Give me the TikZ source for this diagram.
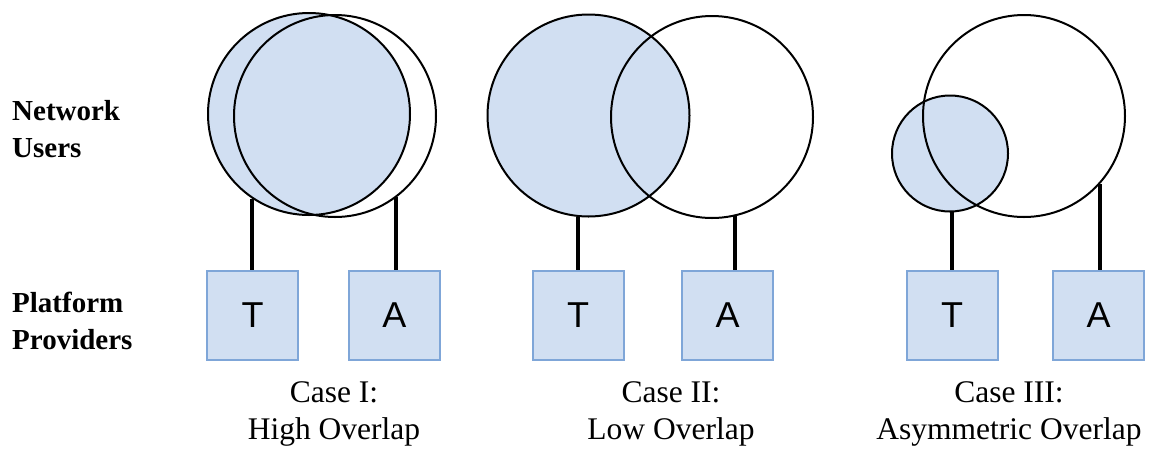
\documentclass[tikz,border=0pt]{standalone}
\usepackage{fontspec}
\setmainfont{Liberation Serif}
\newfontfamily\arialfont{Liberation Sans}
\definecolor{fillblue}{HTML}{D1DFF2}
\definecolor{edgeblue}{HTML}{7FA6D8}

\begin{document}
\begin{tikzpicture}[
    x=1pt, y=-1pt,
    users/.style={
      circle, draw=black, line width=2pt, inner sep=0pt,
      minimum size=#1
    },
    users/.default=202pt,
    prov/.style={
      rectangle, draw=edgeblue, fill=fillblue, line width=2pt,
      minimum width=91pt, minimum height=89pt,
      font=\arialfont\fontsize{36}{40}\selectfont
    },
    link/.style={line width=4pt},
    side/.style={
      anchor=west, align=left, inner sep=0pt,
      font=\bfseries\fontsize{29}{37}\selectfont
    },
    caption/.style={
      align=center, inner sep=0pt,
      font=\fontsize{31.5}{37}\selectfont
    }
    ]
  \useasboundingbox (0,0) rectangle (1149,448);

  % row labels
  \node[side] (lnet) at (12,129) {Network\\Users};
  \node[side] (lplat) at (12,321) {Platform\\Providers};

  % case I
  \node[users, fill=fillblue] (tu1) at (309,114) {};
  \node[users] (au1) at (335,116) {};
  \node[prov] (t1) at (252.5,315.5) {T};
  \node[prov] (a1) at (394.5,315.5) {A};
  \draw[link] (tu1.-124) -- (tu1.-124 |- t1.north);
  \draw[link] (au1.-53.5) -- (au1.-53.5 |- a1.north);
  \node[caption] (c1) at (334,414) {Case I:\\High Overlap};

  % case II
  \node[users, fill=fillblue] (tu2) at (588.5,115.5) {};
  \node[users] (au2) at (712,117) {};
  \node[prov] (t2) at (578,315.5) {T};
  \node[prov] (a2) at (727.5,315.5) {A};
  \draw[link] (tu2.-96) -- (tu2.-96 |- t2.north);
  \draw[link] (au2.-77.4) -- (au2.-77.4 |- a2.north);
  \node[caption] (c2) at (671,414) {Case II:\\Low Overlap};

  % case III
  \node[users=116pt, fill=fillblue] (tu3) at (950,153.5) {};
  \node[users] (au3) at (1024,116) {};
  \node[prov] (t3) at (952,315.5) {T};
  \node[prov] (a3) at (1098.5,315.5) {A};
  \draw[link] (tu3.-88) -- (tu3.-88 |- t3.north);
  \draw[link] (au3.-42) -- (au3.-42 |- a3.north);
  \node[caption] (c3) at (1009,414) {Case III:\\Asymmetric Overlap};
\end{tikzpicture}
\end{document}
